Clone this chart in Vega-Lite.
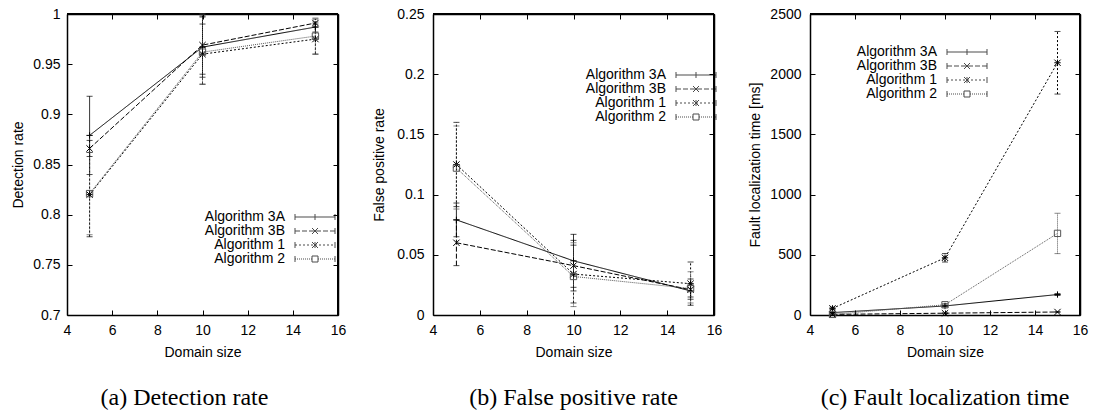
{
  "$schema": "https://vega.github.io/schema/vega-lite/v6.json",
  "padding": {"left": 11, "top": 7, "right": 5, "bottom": 2},
  "config": {
    "font": "Liberation Sans",
    "view": {"stroke": null},
    "scale": {"continuousPadding": 0},
    "axis": {"domainColor": "#000", "domainWidth": 1.5, "tickColor": "#000", "tickSize": -5, "tickWidth": 1, "labelPadding": 12, "labelColor": "#000", "labelFontSize": 14, "labelFont": "Liberation Sans", "titleFont": "Liberation Sans", "titleFontSize": 14, "titleFontWeight": "normal", "titleColor": "#000", "grid": false, "labelFlush": false, "labelOverlap": false, "format": "~g"},
    "legend": {"title": null, "orient": "none", "labelAlign": "right", "labelOffset": -37, "symbolSize": 100, "symbolStrokeWidth": 1, "symbolStrokeColor": "#000", "symbolFillColor": "transparent", "rowPadding": 0, "padding": 0, "labelFontSize": 14, "labelFont": "Liberation Sans", "labelColor": "#000", "labelLimit": 200}
  },
  "datasets": {
    "det": [
      {"alg": "Algorithm 3A", "x": 5, "y": 0.879, "lo": 0.840, "hi": 0.918},
      {"alg": "Algorithm 3A", "x": 10, "y": 0.967, "lo": 0.937, "hi": 0.997},
      {"alg": "Algorithm 3A", "x": 15, "y": 0.987, "lo": 0.982, "hi": 0.992},
      {"alg": "Algorithm 3B", "x": 5, "y": 0.866, "lo": 0.858, "hi": 0.874},
      {"alg": "Algorithm 3B", "x": 10, "y": 0.969, "lo": 0.940, "hi": 0.998},
      {"alg": "Algorithm 3B", "x": 15, "y": 0.991, "lo": 0.987, "hi": 0.995},
      {"alg": "Algorithm 1", "x": 5, "y": 0.820, "lo": 0.778, "hi": 0.862},
      {"alg": "Algorithm 1", "x": 10, "y": 0.960, "lo": 0.930, "hi": 0.990},
      {"alg": "Algorithm 1", "x": 15, "y": 0.975, "lo": 0.960, "hi": 0.990},
      {"alg": "Algorithm 2", "x": 5, "y": 0.821, "lo": 0.780, "hi": 0.862},
      {"alg": "Algorithm 2", "x": 10, "y": 0.962, "lo": 0.930, "hi": 1.0},
      {"alg": "Algorithm 2", "x": 15, "y": 0.978, "lo": 0.960, "hi": 0.996}
    ],
    "fp": [
      {"alg": "Algorithm 3A", "x": 5, "y": 0.079, "lo": 0.065, "hi": 0.093},
      {"alg": "Algorithm 3A", "x": 10, "y": 0.045, "lo": 0.023, "hi": 0.067},
      {"alg": "Algorithm 3A", "x": 15, "y": 0.020, "lo": 0.015, "hi": 0.025},
      {"alg": "Algorithm 3B", "x": 5, "y": 0.060, "lo": 0.041, "hi": 0.079},
      {"alg": "Algorithm 3B", "x": 10, "y": 0.041, "lo": 0.020, "hi": 0.062},
      {"alg": "Algorithm 3B", "x": 15, "y": 0.021, "lo": 0.013, "hi": 0.030},
      {"alg": "Algorithm 1", "x": 5, "y": 0.125, "lo": 0.090, "hi": 0.160},
      {"alg": "Algorithm 1", "x": 10, "y": 0.034, "lo": 0.010, "hi": 0.058},
      {"alg": "Algorithm 1", "x": 15, "y": 0.026, "lo": 0.008, "hi": 0.044},
      {"alg": "Algorithm 2", "x": 5, "y": 0.122, "lo": 0.088, "hi": 0.157},
      {"alg": "Algorithm 2", "x": 10, "y": 0.032, "lo": 0.007, "hi": 0.060},
      {"alg": "Algorithm 2", "x": 15, "y": 0.022, "lo": 0.010, "hi": 0.036}
    ],
    "time": [
      {"alg": "Algorithm 3A", "x": 5, "y": 20, "lo": 15, "hi": 25},
      {"alg": "Algorithm 3A", "x": 10, "y": 75, "lo": 67, "hi": 83},
      {"alg": "Algorithm 3A", "x": 15, "y": 170, "lo": 162, "hi": 178},
      {"alg": "Algorithm 3B", "x": 5, "y": 5, "lo": 3, "hi": 7},
      {"alg": "Algorithm 3B", "x": 10, "y": 15, "lo": 12, "hi": 18},
      {"alg": "Algorithm 3B", "x": 15, "y": 25, "lo": 21, "hi": 29},
      {"alg": "Algorithm 1", "x": 5, "y": 55, "lo": 45, "hi": 65},
      {"alg": "Algorithm 1", "x": 10, "y": 475, "lo": 440, "hi": 510},
      {"alg": "Algorithm 1", "x": 15, "y": 2095, "lo": 1835, "hi": 2355},
      {"alg": "Algorithm 2", "x": 5, "y": 5, "lo": 2, "hi": 8},
      {"alg": "Algorithm 2", "x": 10, "y": 85, "lo": 75, "hi": 95},
      {"alg": "Algorithm 2", "x": 15, "y": 678, "lo": 510, "hi": 845}
    ]
  },
  "spacing": 26,
  "resolve": {
    "scale": {"color": "independent", "strokeDash": "independent", "shape": "independent"},
    "legend": {"color": "independent", "strokeDash": "independent", "shape": "independent"}
  },
  "hconcat": [
    {
      "width": 271, "height": 301,
      "data": {"name": "det"},
      "title": {"text": "(a) Detection rate", "orient": "bottom", "font": "Liberation Serif", "fontSize": 24, "fontWeight": "normal", "color": "#000", "offset": 27, "dx": -18},
      "resolve": {"scale": {"shape": "independent"}, "axis": {"x": "independent", "y": "independent"}},
      "layer": [
        {
          "mark": {"type": "rule", "strokeWidth": 1},
          "encoding": {
            "x": {"field": "x", "type": "quantitative", "scale": {"domain": [4, 16], "nice": false, "zero": false, "padding": 0}, "axis": {"orient": "bottom", "values": [4, 6, 8, 10, 12, 14, 16], "title": "Domain size", "labelPadding": 13, "titlePadding": 8}},
            "y": {"field": "lo", "type": "quantitative", "scale": {"domain": [0.7, 1], "nice": false, "zero": false, "padding": 0}, "axis": {"orient": "left", "values": [0.7, 0.75, 0.8, 0.85, 0.9, 0.95, 1], "title": "Detection rate", "titlePadding": 7}},
            "y2": {"field": "hi"},
            "color": {"field": "alg", "type": "nominal", "scale": {"domain": ["Algorithm 3A", "Algorithm 3B", "Algorithm 1", "Algorithm 2"], "range": ["#000", "#000", "#000", "#555"]}, "legend": null},
            "strokeDash": {"field": "alg", "type": "nominal", "scale": {"domain": ["Algorithm 3A", "Algorithm 3B", "Algorithm 1", "Algorithm 2"], "range": [[1, 0], [5, 2], [2, 2], [1, 1]]}, "legend": null}
          }
        },
        {
          "mark": {"type": "rule", "strokeWidth": 1.5, "color": "#000", "clip": false},
          "encoding": {
            "x": {"datum": 4, "type": "quantitative", "axis": {"orient": "top", "values": [4, 6, 8, 10, 12, 14, 16], "labels": false, "title": null}},
            "x2": {"datum": 16},
            "y": {"datum": 1, "type": "quantitative", "axis": null}
          }
        },
        {
          "mark": {"type": "rule", "strokeWidth": 1.5, "color": "#000", "clip": false},
          "encoding": {
            "x": {"datum": 16, "type": "quantitative", "axis": null},
            "y": {"datum": 0.7, "type": "quantitative", "axis": {"orient": "right", "values": [0.7, 0.75, 0.8, 0.85, 0.9, 0.95, 1], "labels": false, "title": null}},
            "y2": {"datum": 1}
          }
        },
        {
          "mark": {"type": "tick", "orient": "horizontal", "size": 6, "thickness": 1},
          "encoding": {
            "x": {"field": "x", "type": "quantitative", "axis": null},
            "y": {"field": "lo", "type": "quantitative", "axis": null},
            "color": {"field": "alg", "type": "nominal", "legend": null}
          }
        },
        {
          "mark": {"type": "tick", "orient": "horizontal", "size": 6, "thickness": 1},
          "encoding": {
            "x": {"field": "x", "type": "quantitative", "axis": null},
            "y": {"field": "hi", "type": "quantitative", "axis": null},
            "color": {"field": "alg", "type": "nominal", "legend": null}
          }
        },
        {
          "mark": {"type": "line", "strokeWidth": 1},
          "encoding": {
            "x": {"field": "x", "type": "quantitative", "axis": null},
            "y": {"field": "y", "type": "quantitative", "axis": null},
            "color": {"field": "alg", "type": "nominal", "legend": null},
            "strokeDash": {"field": "alg", "type": "nominal", "legend": null}
          }
        },
        {
          "mark": {"type": "point", "filled": false, "size": 40, "strokeWidth": 1, "opacity": 1},
          "encoding": {
            "x": {"field": "x", "type": "quantitative", "axis": null},
            "y": {"field": "y", "type": "quantitative", "axis": null},
            "color": {"field": "alg", "type": "nominal", "legend": null},
            "shape": {"field": "alg", "type": "nominal", "scale": {"domain": ["Algorithm 3A", "Algorithm 3B", "Algorithm 1", "Algorithm 2"], "range": ["M-1,0H1M0,-1V1", "M-1,-1L1,1M-1,1L1,-1", "M-1,0H1M0,-1V1M-1,-1L1,1M-1,1L1,-1", "M-1,-1H1V1H-1Z"]}, "legend": null}
          }
        },
        {
          "transform": [{"filter": "datum.x < 0"}],
          "mark": {"type": "point", "filled": false, "strokeWidth": 1},
          "encoding": {
            "x": {"field": "x", "type": "quantitative", "axis": null},
            "y": {"field": "y", "type": "quantitative", "axis": null},
            "shape": {"field": "alg", "type": "nominal", "scale": {"domain": ["Algorithm 3A", "Algorithm 3B", "Algorithm 1", "Algorithm 2"], "range": [
              "M-4,0H4M-4,-0.6V0.6M4,-0.6V0.6M0,-0.6V0.6",
              "M-4,0H-3M-2.6,0H-1.6M-1.2,0H-0.2M0.2,0H1.2M1.6,0H2.6M3,0H4M-4,-0.6V0.6M4,-0.6V0.6M-0.6,-0.6L0.6,0.6M-0.6,0.6L0.6,-0.6",
              "M-4,0H-3.6M-3.2,0H-2.8M-2.4,0H-2M-1.6,0H-1.2M-0.8,0H-0.4M0,0H0.4M0.8,0H1.2M1.6,0H2M2.4,0H2.8M3.2,0H3.6M-4,-0.6V0.6M4,-0.6V0.6M0,-0.6V0.6M-0.6,-0.6L0.6,0.6M-0.6,0.6L0.6,-0.6",
              "M-4,0H-3.8M-3.6,0H-3.4M-3.2,0H-3M-2.8,0H-2.6M-2.4,0H-2.2M-2,0H-1.8M-1.6,0H-1.4M-1.2,0H-1M-0.8,0H-0.6M0.6,0H0.8M1,0H1.2M1.4,0H1.6M1.8,0H2M2.2,0H2.4M2.6,0H2.8M3,0H3.2M3.4,0H3.6M3.8,0H4M-4,-0.6V0.6M4,-0.6V0.6M-0.6,-0.6H0.6V0.6H-0.6Z"]},
              "legend": {"legendX": 241, "legendY": 196}}
          }
        }
      ]
    },
    {
      "width": 281, "height": 301,
      "data": {"name": "fp"},
      "title": {"text": "(b) False positive rate", "orient": "bottom", "font": "Liberation Serif", "fontSize": 24, "fontWeight": "normal", "color": "#000", "offset": 27},
      "resolve": {"scale": {"shape": "independent"}, "axis": {"x": "independent", "y": "independent"}},
      "layer": [
        {
          "mark": {"type": "rule", "strokeWidth": 1},
          "encoding": {
            "x": {"field": "x", "type": "quantitative", "scale": {"domain": [4, 16], "nice": false, "zero": false, "padding": 0}, "axis": {"orient": "bottom", "values": [4, 6, 8, 10, 12, 14, 16], "title": "Domain size", "labelPadding": 13, "titlePadding": 8}},
            "y": {"field": "lo", "type": "quantitative", "scale": {"domain": [0, 0.25], "nice": false, "padding": 0}, "axis": {"orient": "left", "values": [0, 0.05, 0.1, 0.15, 0.2, 0.25], "title": "False positive rate", "titlePadding": 10, "labelPadding": 14}},
            "y2": {"field": "hi"},
            "color": {"field": "alg", "type": "nominal", "scale": {"domain": ["Algorithm 3A", "Algorithm 3B", "Algorithm 1", "Algorithm 2"], "range": ["#000", "#000", "#000", "#555"]}, "legend": null},
            "strokeDash": {"field": "alg", "type": "nominal", "scale": {"domain": ["Algorithm 3A", "Algorithm 3B", "Algorithm 1", "Algorithm 2"], "range": [[1, 0], [5, 2], [2, 2], [1, 1]]}, "legend": null}
          }
        },
        {
          "mark": {"type": "rule", "strokeWidth": 1.5, "color": "#000", "clip": false},
          "encoding": {
            "x": {"datum": 4, "type": "quantitative", "axis": {"orient": "top", "values": [4, 6, 8, 10, 12, 14, 16], "labels": false, "title": null}},
            "x2": {"datum": 16},
            "y": {"datum": 0.25, "type": "quantitative", "axis": null}
          }
        },
        {
          "mark": {"type": "rule", "strokeWidth": 1.5, "color": "#000", "clip": false},
          "encoding": {
            "x": {"datum": 16, "type": "quantitative", "axis": null},
            "y": {"datum": 0, "type": "quantitative", "axis": {"orient": "right", "values": [0, 0.05, 0.1, 0.15, 0.2, 0.25], "labels": false, "title": null}},
            "y2": {"datum": 0.25}
          }
        },
        {
          "mark": {"type": "tick", "orient": "horizontal", "size": 6, "thickness": 1},
          "encoding": {
            "x": {"field": "x", "type": "quantitative", "axis": null},
            "y": {"field": "lo", "type": "quantitative", "axis": null},
            "color": {"field": "alg", "type": "nominal", "legend": null}
          }
        },
        {
          "mark": {"type": "tick", "orient": "horizontal", "size": 6, "thickness": 1},
          "encoding": {
            "x": {"field": "x", "type": "quantitative", "axis": null},
            "y": {"field": "hi", "type": "quantitative", "axis": null},
            "color": {"field": "alg", "type": "nominal", "legend": null}
          }
        },
        {
          "mark": {"type": "line", "strokeWidth": 1},
          "encoding": {
            "x": {"field": "x", "type": "quantitative", "axis": null},
            "y": {"field": "y", "type": "quantitative", "axis": null},
            "color": {"field": "alg", "type": "nominal", "legend": null},
            "strokeDash": {"field": "alg", "type": "nominal", "legend": null}
          }
        },
        {
          "mark": {"type": "point", "filled": false, "size": 40, "strokeWidth": 1, "opacity": 1},
          "encoding": {
            "x": {"field": "x", "type": "quantitative", "axis": null},
            "y": {"field": "y", "type": "quantitative", "axis": null},
            "color": {"field": "alg", "type": "nominal", "legend": null},
            "shape": {"field": "alg", "type": "nominal", "scale": {"domain": ["Algorithm 3A", "Algorithm 3B", "Algorithm 1", "Algorithm 2"], "range": ["M-1,0H1M0,-1V1", "M-1,-1L1,1M-1,1L1,-1", "M-1,0H1M0,-1V1M-1,-1L1,1M-1,1L1,-1", "M-1,-1H1V1H-1Z"]}, "legend": null}
          }
        },
        {
          "transform": [{"filter": "datum.x < 0"}],
          "mark": {"type": "point", "filled": false, "strokeWidth": 1},
          "encoding": {
            "x": {"field": "x", "type": "quantitative", "axis": null},
            "y": {"field": "y", "type": "quantitative", "axis": null},
            "shape": {"field": "alg", "type": "nominal", "scale": {"domain": ["Algorithm 3A", "Algorithm 3B", "Algorithm 1", "Algorithm 2"], "range": [
              "M-4,0H4M-4,-0.6V0.6M4,-0.6V0.6M0,-0.6V0.6",
              "M-4,0H-3M-2.6,0H-1.6M-1.2,0H-0.2M0.2,0H1.2M1.6,0H2.6M3,0H4M-4,-0.6V0.6M4,-0.6V0.6M-0.6,-0.6L0.6,0.6M-0.6,0.6L0.6,-0.6",
              "M-4,0H-3.6M-3.2,0H-2.8M-2.4,0H-2M-1.6,0H-1.2M-0.8,0H-0.4M0,0H0.4M0.8,0H1.2M1.6,0H2M2.4,0H2.8M3.2,0H3.6M-4,-0.6V0.6M4,-0.6V0.6M0,-0.6V0.6M-0.6,-0.6L0.6,0.6M-0.6,0.6L0.6,-0.6",
              "M-4,0H-3.8M-3.6,0H-3.4M-3.2,0H-3M-2.8,0H-2.6M-2.4,0H-2.2M-2,0H-1.8M-1.6,0H-1.4M-1.2,0H-1M-0.8,0H-0.6M0.6,0H0.8M1,0H1.2M1.4,0H1.6M1.8,0H2M2.2,0H2.4M2.6,0H2.8M3,0H3.2M3.4,0H3.6M3.8,0H4M-4,-0.6V0.6M4,-0.6V0.6M-0.6,-0.6H0.6V0.6H-0.6Z"]},
              "legend": {"legendX": 256, "legendY": 54}}
          }
        }
      ]
    },
    {
      "width": 270, "height": 301,
      "data": {"name": "time"},
      "title": {"text": "(c) Fault localization time", "orient": "bottom", "font": "Liberation Serif", "fontSize": 24, "fontWeight": "normal", "color": "#000", "offset": 27},
      "resolve": {"scale": {"shape": "independent"}, "axis": {"x": "independent", "y": "independent"}},
      "layer": [
        {
          "mark": {"type": "rule", "strokeWidth": 1},
          "encoding": {
            "x": {"field": "x", "type": "quantitative", "scale": {"domain": [4, 16], "nice": false, "zero": false, "padding": 0}, "axis": {"orient": "bottom", "values": [4, 6, 8, 10, 12, 14, 16], "title": "Domain size", "labelPadding": 13, "titlePadding": 8}},
            "y": {"field": "lo", "type": "quantitative", "scale": {"domain": [0, 2500], "nice": false, "padding": 0}, "axis": {"orient": "left", "values": [0, 500, 1000, 1500, 2000, 2500], "format": "d", "title": "Fault localization time [ms]", "titlePadding": 7, "labelPadding": 14}},
            "y2": {"field": "hi"},
            "color": {"field": "alg", "type": "nominal", "scale": {"domain": ["Algorithm 3A", "Algorithm 3B", "Algorithm 1", "Algorithm 2"], "range": ["#000", "#000", "#000", "#555"]}, "legend": null},
            "strokeDash": {"field": "alg", "type": "nominal", "scale": {"domain": ["Algorithm 3A", "Algorithm 3B", "Algorithm 1", "Algorithm 2"], "range": [[1, 0], [5, 2], [2, 2], [1, 1]]}, "legend": null}
          }
        },
        {
          "mark": {"type": "rule", "strokeWidth": 1.5, "color": "#000", "clip": false},
          "encoding": {
            "x": {"datum": 4, "type": "quantitative", "axis": {"orient": "top", "values": [4, 6, 8, 10, 12, 14, 16], "labels": false, "title": null}},
            "x2": {"datum": 16},
            "y": {"datum": 2500, "type": "quantitative", "axis": null}
          }
        },
        {
          "mark": {"type": "rule", "strokeWidth": 1.5, "color": "#000", "clip": false},
          "encoding": {
            "x": {"datum": 16, "type": "quantitative", "axis": null},
            "y": {"datum": 0, "type": "quantitative", "axis": {"orient": "right", "values": [0, 500, 1000, 1500, 2000, 2500], "labels": false, "title": null}},
            "y2": {"datum": 2500}
          }
        },
        {
          "mark": {"type": "tick", "orient": "horizontal", "size": 6, "thickness": 1},
          "encoding": {
            "x": {"field": "x", "type": "quantitative", "axis": null},
            "y": {"field": "lo", "type": "quantitative", "axis": null},
            "color": {"field": "alg", "type": "nominal", "legend": null}
          }
        },
        {
          "mark": {"type": "tick", "orient": "horizontal", "size": 6, "thickness": 1},
          "encoding": {
            "x": {"field": "x", "type": "quantitative", "axis": null},
            "y": {"field": "hi", "type": "quantitative", "axis": null},
            "color": {"field": "alg", "type": "nominal", "legend": null}
          }
        },
        {
          "mark": {"type": "line", "strokeWidth": 1},
          "encoding": {
            "x": {"field": "x", "type": "quantitative", "axis": null},
            "y": {"field": "y", "type": "quantitative", "axis": null},
            "color": {"field": "alg", "type": "nominal", "legend": null},
            "strokeDash": {"field": "alg", "type": "nominal", "legend": null}
          }
        },
        {
          "mark": {"type": "point", "filled": false, "size": 40, "strokeWidth": 1, "opacity": 1},
          "encoding": {
            "x": {"field": "x", "type": "quantitative", "axis": null},
            "y": {"field": "y", "type": "quantitative", "axis": null},
            "color": {"field": "alg", "type": "nominal", "legend": null},
            "shape": {"field": "alg", "type": "nominal", "scale": {"domain": ["Algorithm 3A", "Algorithm 3B", "Algorithm 1", "Algorithm 2"], "range": ["M-1,0H1M0,-1V1", "M-1,-1L1,1M-1,1L1,-1", "M-1,0H1M0,-1V1M-1,-1L1,1M-1,1L1,-1", "M-1,-1H1V1H-1Z"]}, "legend": null}
          }
        },
        {
          "transform": [{"filter": "datum.x < 0"}],
          "mark": {"type": "point", "filled": false, "strokeWidth": 1},
          "encoding": {
            "x": {"field": "x", "type": "quantitative", "axis": null},
            "y": {"field": "y", "type": "quantitative", "axis": null},
            "shape": {"field": "alg", "type": "nominal", "scale": {"domain": ["Algorithm 3A", "Algorithm 3B", "Algorithm 1", "Algorithm 2"], "range": [
              "M-4,0H4M-4,-0.6V0.6M4,-0.6V0.6M0,-0.6V0.6",
              "M-4,0H-3M-2.6,0H-1.6M-1.2,0H-0.2M0.2,0H1.2M1.6,0H2.6M3,0H4M-4,-0.6V0.6M4,-0.6V0.6M-0.6,-0.6L0.6,0.6M-0.6,0.6L0.6,-0.6",
              "M-4,0H-3.6M-3.2,0H-2.8M-2.4,0H-2M-1.6,0H-1.2M-0.8,0H-0.4M0,0H0.4M0.8,0H1.2M1.6,0H2M2.4,0H2.8M3.2,0H3.6M-4,-0.6V0.6M4,-0.6V0.6M0,-0.6V0.6M-0.6,-0.6L0.6,0.6M-0.6,0.6L0.6,-0.6",
              "M-4,0H-3.8M-3.6,0H-3.4M-3.2,0H-3M-2.8,0H-2.6M-2.4,0H-2.2M-2,0H-1.8M-1.6,0H-1.4M-1.2,0H-1M-0.8,0H-0.6M0.6,0H0.8M1,0H1.2M1.4,0H1.6M1.8,0H2M2.2,0H2.4M2.6,0H2.8M3,0H3.2M3.4,0H3.6M3.8,0H4M-4,-0.6V0.6M4,-0.6V0.6M-0.6,-0.6H0.6V0.6H-0.6Z"]},
              "legend": {"legendX": 150, "legendY": 31}}
          }
        }
      ]
    }
  ]
}
